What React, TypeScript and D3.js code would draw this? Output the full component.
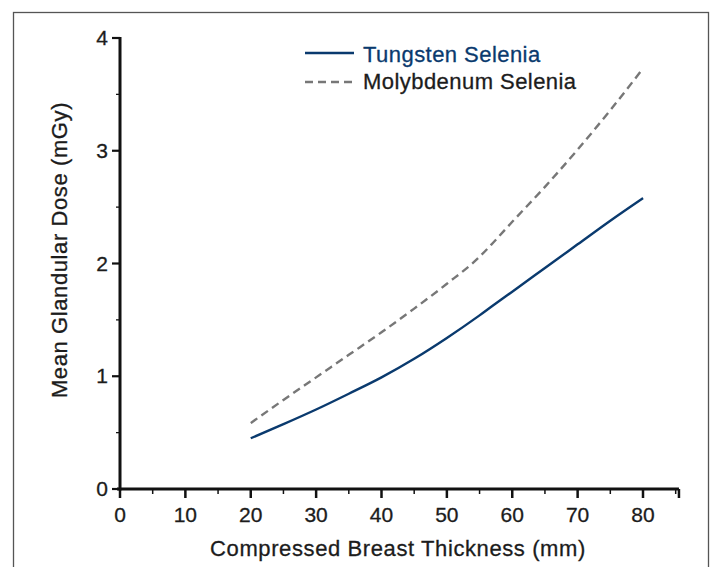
import { useEffect, useRef } from 'react';
import * as d3 from 'd3';

// thickness (mm) sampled along the curves
const thickness = [20, 25, 30, 35, 40, 45, 50, 55, 57, 60, 65, 70, 75, 80];
// mean glandular dose (mGy)
const tungstenDose = [0.45, 0.575, 0.705, 0.845, 0.99, 1.155, 1.34, 1.54, 1.625, 1.75, 1.96, 2.17, 2.38, 2.58];
const molybdenumDose = [0.585, 0.79, 0.99, 1.19, 1.39, 1.6, 1.82, 2.06, 2.18, 2.37, 2.68, 3.01, 3.36, 3.73];

const xTicks = [0, 10, 20, 30, 40, 50, 60, 70, 80];
const yTicks = [0, 1, 2, 3, 4];
const seriesNames = ['Tungsten Selenia', 'Molybdenum Selenia'];

const NAVY = '#0a3a6e';
const GREY = '#777777';
const INK = '#1c1c1c';
const FONT = '"Liberation Sans", Arial, Helvetica, sans-serif';

export default function App() {
    const svgRef = useRef<SVGSVGElement | null>(null);

    useEffect(() => {
        const svg = d3.select(svgRef.current);
        svg.selectAll('*').remove();

        // outer frame
        svg.append('rect')
            .attr('x', 13.5)
            .attr('y', 12.5)
            .attr('width', 695)
            .attr('height', 570)
            .attr('fill', 'none')
            .attr('stroke', '#555')
            .attr('stroke-width', 1.3);

        const x = d3.scaleLinear().domain([0, 80]).range([120, 643]);
        const y = d3.scaleLinear().domain([0, 4]).range([489, 38]);

        const g = svg.append('g');

        // x axis line + ticks
        g.append('line')
            .attr('x1', 117).attr('x2', x(85.5))
            .attr('y1', y(0)).attr('y2', y(0))
            .attr('stroke', '#111').attr('stroke-width', 3);
        const xMinor = d3.range(5, 86, 10);
        g.selectAll('.xmajor')
            .data(xTicks)
            .enter()
            .append('line')
            .attr('x1', d => x(d)).attr('x2', d => x(d))
            .attr('y1', y(0)).attr('y2', y(0) + 9)
            .attr('stroke', '#111').attr('stroke-width', 2.5);
        g.selectAll('.xminor')
            .data(xMinor)
            .enter()
            .append('line')
            .attr('x1', d => x(d)).attr('x2', d => x(d))
            .attr('y1', y(0)).attr('y2', y(0) + 5)
            .attr('stroke', '#111').attr('stroke-width', 1.5);
        g.append('line')
            .attr('x1', x(85.5)).attr('x2', x(85.5))
            .attr('y1', y(0)).attr('y2', y(0) + 9)
            .attr('stroke', '#111').attr('stroke-width', 2.5);
        g.selectAll('.xlabel')
            .data(xTicks)
            .enter()
            .append('text')
            .attr('x', d => x(d))
            .attr('y', 522)
            .attr('text-anchor', 'middle')
            .style('font-family', FONT)
            .style('font-size', '21px')
            .style('fill', INK)
            .style('stroke', INK)
            .style('stroke-width', 0.3)
            .text(d => d);

        // y axis line + ticks
        g.append('line')
            .attr('x1', x(0)).attr('x2', x(0))
            .attr('y1', y(4) - 1).attr('y2', y(0) + 1.5)
            .attr('stroke', '#111').attr('stroke-width', 3);
        g.selectAll('.ymajor')
            .data(yTicks)
            .enter()
            .append('line')
            .attr('x1', x(0) - 8).attr('x2', x(0))
            .attr('y1', d => y(d)).attr('y2', d => y(d))
            .attr('stroke', '#111').attr('stroke-width', 2.2);
        g.selectAll('.yminor')
            .data([0.5, 1.5, 2.5, 3.5])
            .enter()
            .append('line')
            .attr('x1', x(0) - 4).attr('x2', x(0))
            .attr('y1', d => y(d)).attr('y2', d => y(d))
            .attr('stroke', '#111').attr('stroke-width', 1.3);
        g.selectAll('.ylabel')
            .data(yTicks)
            .enter()
            .append('text')
            .attr('x', 108)
            .attr('y', d => y(d) + 7)
            .attr('text-anchor', 'end')
            .style('font-family', FONT)
            .style('font-size', '21px')
            .style('fill', INK)
            .style('stroke', INK)
            .style('stroke-width', 0.3)
            .text(d => d);

        // axis titles
        svg.append('text')
            .attr('x', 398)
            .attr('y', 556)
            .attr('text-anchor', 'middle')
            .style('font-family', FONT)
            .style('font-size', '22px')
            .style('letter-spacing', '0.6px')
            .style('fill', INK)
            .style('stroke', INK)
            .style('stroke-width', 0.3)
            .text('Compressed Breast Thickness (mm)');
        svg.append('text')
            .attr('transform', 'translate(67,250) rotate(-90)')
            .attr('text-anchor', 'middle')
            .style('font-family', FONT)
            .style('font-size', '22px')
            .style('letter-spacing', '0.6px')
            .style('fill', INK)
            .style('stroke', INK)
            .style('stroke-width', 0.3)
            .text('Mean Glandular Dose (mGy)');

        // curves
        const line = d3.line<number>()
            .x((_, i) => x(thickness[i]))
            .y(d => y(d))
            .curve(d3.curveMonotoneX);

        svg.append('path')
            .datum(molybdenumDose)
            .attr('d', line)
            .attr('fill', 'none')
            .attr('stroke', GREY)
            .attr('stroke-width', 2.4)
            .attr('stroke-dasharray', '8,5');

        svg.append('path')
            .datum(tungstenDose)
            .attr('d', line)
            .attr('fill', 'none')
            .attr('stroke', NAVY)
            .attr('stroke-width', 2.4);

        // legend
        const legend = svg.append('g').attr('transform', 'translate(305,53)');
        legend.append('line')
            .attr('x1', 0).attr('x2', 49)
            .attr('y1', 0).attr('y2', 0)
            .attr('stroke', NAVY).attr('stroke-width', 2.4);
        legend.append('text')
            .attr('x', 58).attr('y', 9)
            .style('font-family', FONT)
            .style('font-size', '22px')
            .style('letter-spacing', '0.45px')
            .style('fill', NAVY)
            .style('stroke', NAVY)
            .style('stroke-width', 0.3)
            .text(seriesNames[0]);
        legend.append('line')
            .attr('x1', 0).attr('x2', 49)
            .attr('y1', 29).attr('y2', 29)
            .attr('stroke', GREY).attr('stroke-width', 2.4)
            .attr('stroke-dasharray', '8,5');
        legend.append('text')
            .attr('x', 58).attr('y', 36)
            .style('font-family', FONT)
            .style('font-size', '22px')
            .style('letter-spacing', '0.45px')
            .style('fill', INK)
            .style('stroke', INK)
            .style('stroke-width', 0.3)
            .text(seriesNames[1]);
    }, []);

    return (
        <svg
            ref={svgRef}
            width={712}
            height={567}
            style={{ position: 'absolute', left: 0, top: 0, background: '#fff' }}
        />
    );
}
